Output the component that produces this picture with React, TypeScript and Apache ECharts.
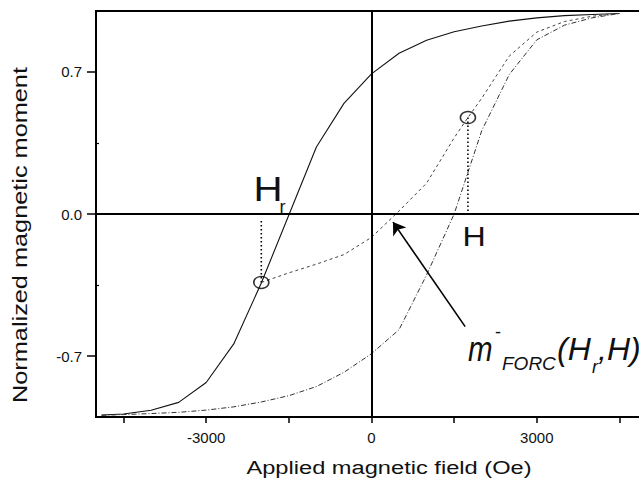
import React, { useEffect, useRef } from "react";
import * as echarts from "echarts";

// ---- data ----
const fieldH = [-4900, -4500, -4000, -3500, -3000, -2500, -2000, -1500, -1000, -500, 0, 500, 1000, 1500, 2000, 2500, 3000, 3500, 4000, 4500];
const descendingM = [-0.99, -0.985, -0.967, -0.928, -0.83, -0.64, -0.34, -0.005, 0.33, 0.545, 0.69, 0.792, 0.856, 0.898, 0.926, 0.95, 0.966, 0.977, 0.983, 0.988];
const ascendingM = [-0.992, -0.988, -0.983, -0.977, -0.966, -0.95, -0.926, -0.895, -0.85, -0.78, -0.688, -0.57, -0.3, 0.0, 0.41, 0.687, 0.858, 0.93, 0.966, 0.988];

const forcH = [-2000, -1500, -1000, -500, 0, 500, 1000, 1500, 1750, 2000, 2500, 3000, 3500, 4000, 4500];
const forcM = [-0.337, -0.29, -0.247, -0.2, -0.115, 0.015, 0.152, 0.375, 0.475, 0.57, 0.778, 0.896, 0.948, 0.974, 0.988];

const circleH = [-2000, 1750];
const circleM = [-0.337, 0.475];
const guideEndM = [-0.03, 0];

const arrowFrom = [1700, -0.555];
const arrowTo = [390, -0.04];

const xLabelValues = [-3000, 0, 3000];
const xTickValues = [-4500, -3000, -1500, 0, 1500, 3000, 4500];
const yLabelValues = [-0.7, 0, 0.7];
const yMinorTicks = [-0.35, 0.35];

const FONT = '"Liberation Sans", Arial, sans-serif';

const zip = (a: number[], b: number[]) => a.map((v, i) => [v, b[i]]);

export default function App() {
  const ref = useRef<HTMLDivElement>(null);
  useEffect(() => {
    if (!ref.current) return;
    const chart = echarts.init(ref.current, null, { renderer: "svg" });
    const txt = (
      text: string,
      x: number,
      y: number,
      size: number,
      opts: any = {}
    ) => ({
      type: "text",
      x,
      y,
      scaleX: opts.scaleX ?? 1,
      rotation: opts.rotation ?? 0,
      silent: true,
      style: {
        text,
        font: `${opts.italic ? "italic " : ""}${size}px ${FONT}`,
        fill: "#111",
        align: opts.align ?? "left",
        verticalAlign: "middle",
      },
    });
    chart.setOption({
      animation: false,
      backgroundColor: "#fff",
      grid: {
        left: 96,
        top: 11,
        width: 551,
        height: 406,
        show: true,
        borderColor: "#000",
        borderWidth: 2,
        containLabel: false,
        outerBoundsMode: "none",
      },
      xAxis: {
        type: "value",
        min: -5000,
        max: 5000,
        splitLine: { show: false },
        axisLine: { show: true, onZero: false, lineStyle: { color: "#000", width: 2 } },
        axisTick: {
          show: true,
          customValues: xTickValues,
          length: 6,
          lineStyle: { color: "#000", width: 1.5 },
        },
        axisLabel: {
          customValues: xLabelValues,
          formatter: (v: number) => String(v),
          fontSize: 15,
          fontFamily: FONT,
          color: "#111",
          margin: 13,
        },
      },
      yAxis: [
        {
          type: "value",
          min: -1,
          max: 1,
          splitLine: { show: false },
          axisLine: { show: true, onZero: false, lineStyle: { color: "#000", width: 2 } },
          axisTick: {
            show: true,
            customValues: yLabelValues,
            length: 9,
            lineStyle: { color: "#000", width: 1.5 },
          },
          axisLabel: {
            customValues: yLabelValues,
            formatter: (v: number) => v.toFixed(1),
            fontSize: 15,
            fontFamily: FONT,
            color: "#111",
            margin: 14,
          },
        },
        {
          type: "value",
          min: -1,
          max: 1,
          position: "left",
          splitLine: { show: false },
          axisLine: { show: false, onZero: false },
          axisLabel: { show: false },
          axisTick: {
            show: true,
            inside: true,
            customValues: yMinorTicks,
            length: 3,
            lineStyle: { color: "#000", width: 1.2 },
          },
        },
      ],
      series: [
        {
          type: "line",
          data: zip(fieldH, descendingM),
          showSymbol: false,
          lineStyle: { color: "#111", width: 1.1 },
          z: 3,
          markLine: {
            silent: true,
            symbol: "none",
            label: { show: false },
            lineStyle: { color: "#000", width: 2, type: "solid" },
            data: [{ yAxis: 0 }, { xAxis: 0 }],
          },
        },
        {
          type: "line",
          data: zip(fieldH, ascendingM),
          showSymbol: false,
          lineStyle: { color: "#333", width: 1, type: [5, 2, 1, 2] },
          z: 3,
        },
        {
          type: "line",
          data: zip(forcH, forcM),
          showSymbol: false,
          lineStyle: { color: "#444", width: 1, type: [3, 3] },
          z: 3,
          markLine: {
            silent: true,
            symbol: ["none", "arrow"],
            symbolSize: 12,
            label: { show: false },
            lineStyle: { color: "#000", width: 1.6, type: "solid" },
            itemStyle: { color: "#000" },
            data: [[{ coord: arrowFrom }, { coord: arrowTo }]],
          },
        },
        {
          type: "line",
          data: [
            [circleH[0], circleM[0]],
            [circleH[0], guideEndM[0]],
          ],
          showSymbol: false,
          lineStyle: { color: "#000", width: 1.6, type: [1.5, 2.5] },
          z: 4,
        },
        {
          type: "line",
          data: [
            [circleH[1], circleM[1]],
            [circleH[1], guideEndM[1]],
          ],
          showSymbol: false,
          lineStyle: { color: "#000", width: 1.6, type: [1.5, 2.5] },
          z: 4,
        },
        {
          type: "scatter",
          data: zip(circleH, circleM),
          symbol: "circle",
          symbolSize: [15, 12],
          itemStyle: { color: "rgba(255,255,255,0)", borderColor: "#000", borderWidth: 1.5 },
          z: 5,
        },
      ],
      graphic: [
        txt("Applied magnetic field (Oe)", 389, 468, 19, { align: "center", scaleX: 1.245 }),
        txt("Normalized magnetic moment", 20, 235, 20, { align: "center", scaleX: 1.265, rotation: Math.PI / 2 }),
        txt("H", 253.5, 189, 35, { scaleX: 1.15 }),
        txt("r", 279.5, 206.7, 18),
        txt("H", 462.5, 236.7, 28, { scaleX: 1.15 }),
        txt("m", 468, 348.4, 36, { italic: true, scaleX: 0.82 }),
        txt("-", 495, 331.6, 18),
        txt("FORC", 502, 363.3, 19, { italic: true }),
        txt("(H", 557, 348.8, 32, { italic: true }),
        txt("r", 592, 366.7, 18, { italic: true }),
        txt(",H)", 598, 348.8, 32, { italic: true }),
      ],
    });
    return () => chart.dispose();
  }, []);
  return (
    <div
      ref={ref}
      style={{ position: "fixed", left: 0, top: 0, width: 639, height: 478, background: "#fff" }}
    />
  );
}
